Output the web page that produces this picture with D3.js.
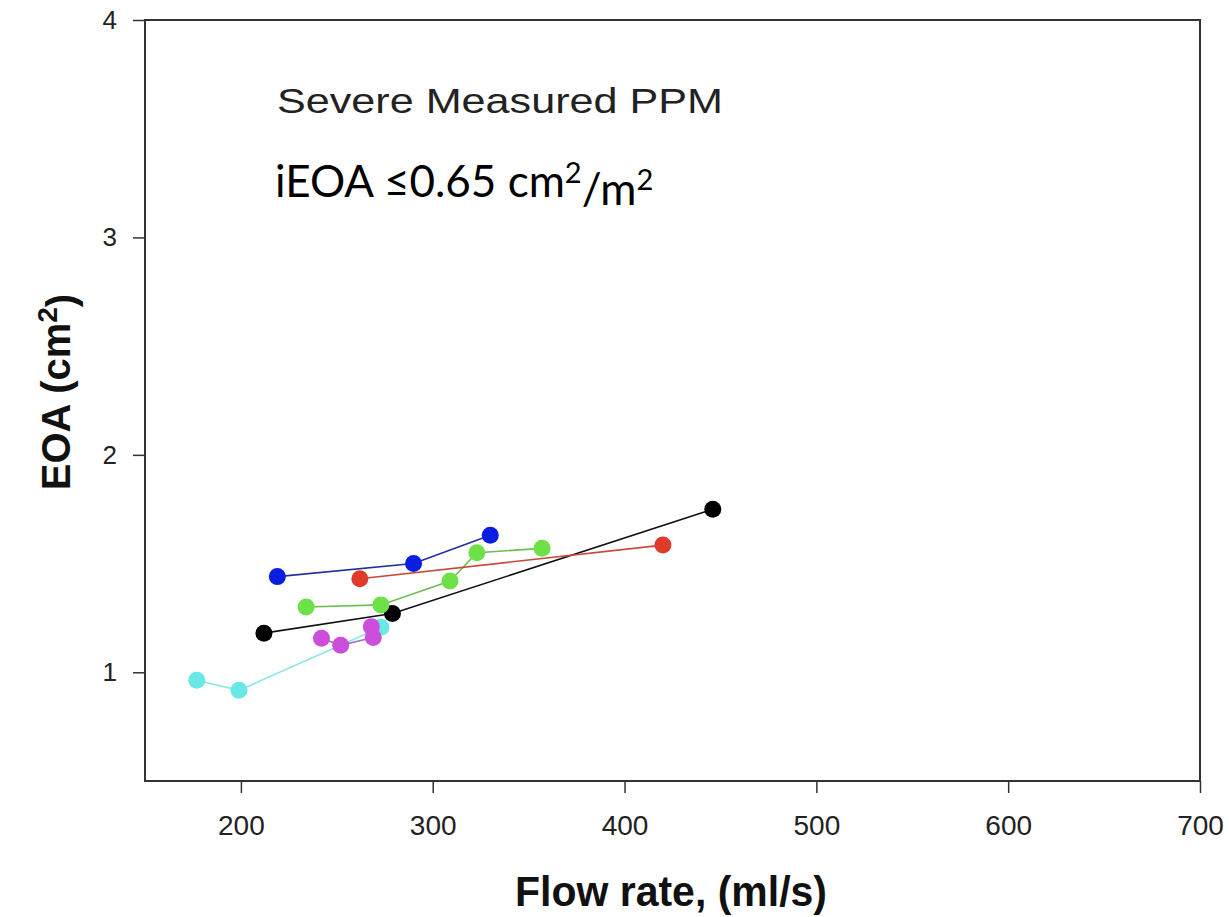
<!DOCTYPE html>
<html>
<head>
<meta charset="utf-8">
<script src="https://cdn.jsdelivr.net/npm/d3@7"></script>
<style>
  body { margin: 0; background: #fff; }
</style>
</head>
<body>
<svg id="chart" width="1229" height="917"></svg>
<script>
// tick values
const xTicks = [200, 300, 400, 500, 600, 700];
const yTicks = [1, 2, 3, 4];

// one series per patient: flow rate (ml/s) and EOA (cm2)
const blueFlow = [219, 290, 330];
const blueEoa = [1.44, 1.50, 1.63];
const redFlow = [262, 420];
const redEoa = [1.43, 1.585];
const greenFlow = [234, 273, 309, 323, 357];
const greenEoa = [1.30, 1.31, 1.42, 1.55, 1.57];
const blackFlow = [212, 279, 446];
const blackEoa = [1.18, 1.27, 1.75];
const magentaFlow = [242, 252, 269, 268];
const magentaEoa = [1.157, 1.124, 1.16, 1.21];
const cyanFlow = [177, 199, 273];
const cyanEoa = [0.963, 0.917, 1.207];

const series = [
  { name: "cyan", flow: cyanFlow, eoa: cyanEoa, dot: "#6ae8e6", line: "#8ee6e6" },
  { name: "magenta", flow: magentaFlow, eoa: magentaEoa, dot: "#cc4fdc", line: "#a070c0" },
  { name: "black", flow: blackFlow, eoa: blackEoa, dot: "#000000", line: "#111111" },
  { name: "green", flow: greenFlow, eoa: greenEoa, dot: "#6ee048", line: "#6cbf50" },
  { name: "red", flow: redFlow, eoa: redEoa, dot: "#e03a2a", line: "#c84a3a" },
  { name: "blue", flow: blueFlow, eoa: blueEoa, dot: "#0a1ee0", line: "#2030a0" }
];

const svg = d3.select("#chart");
const width = 1229, height = 917;
const margin = { top: 20, right: 29, bottom: 136, left: 145 };

const x = d3.scaleLinear().domain([150, 700]).range([margin.left, width - margin.right]);
const y = d3.scaleLinear().domain([0.5, 4]).range([height - margin.bottom, margin.top]);

// frame
svg.append("rect")
  .attr("x", margin.left)
  .attr("y", margin.top)
  .attr("width", width - margin.left - margin.right)
  .attr("height", height - margin.top - margin.bottom)
  .attr("fill", "none")
  .attr("stroke", "#333")
  .attr("stroke-width", 2);

// axes
const xAxis = svg.append("g")
  .attr("transform", `translate(0,${height - margin.bottom})`)
  .call(d3.axisBottom(x).tickValues(xTicks).tickSize(12).tickPadding(22).tickFormat(d3.format("d")));

const yAxis = svg.append("g")
  .attr("transform", `translate(${margin.left},0)`)
  .call(d3.axisLeft(y).tickValues(yTicks).tickSize(12).tickPadding(16).tickFormat(d3.format("d")));

[xAxis, yAxis].forEach(g => {
  g.select(".domain").remove();
  g.selectAll("line").attr("stroke", "#333").attr("stroke-width", 1.5);
  g.selectAll("text")
    .attr("font-family", "Liberation Sans, Arial, sans-serif")
    .attr("fill", "#222");
});
xAxis.selectAll("text").attr("font-size", "28px");
yAxis.selectAll("text").attr("font-size", "26px");

// axis titles
svg.append("text")
  .attr("x", 671)
  .attr("y", 906)
  .attr("text-anchor", "middle")
  .attr("font-family", "Liberation Sans, Arial, sans-serif")
  .attr("font-weight", "bold")
  .attr("font-size", "42px")
  .attr("textLength", 312)
  .attr("lengthAdjust", "spacingAndGlyphs")
  .attr("fill", "#111")
  .text("Flow rate, (ml/s)");

const yLab = svg.append("text")
  .attr("transform", "translate(70,392) rotate(-90)")
  .attr("text-anchor", "middle")
  .attr("font-family", "Liberation Sans, Arial, sans-serif")
  .attr("font-weight", "bold")
  .attr("font-size", "40px")
  .attr("fill", "#111");
yLab.append("tspan").text("EOA (cm");
yLab.append("tspan").attr("dy", "-0.45em").attr("font-size", "28px").text("2");
yLab.append("tspan").attr("dy", "0.45em").text(")");

// annotations
svg.append("text")
  .attr("x", 277)
  .attr("y", 113)
  .attr("font-family", "Liberation Sans, Arial, sans-serif")
  .attr("font-size", "35px")
  .attr("textLength", 446)
  .attr("lengthAdjust", "spacingAndGlyphs")
  .attr("fill", "#222")
  .text("Severe Measured PPM");

const sub = svg.append("text")
  .attr("x", 275)
  .attr("y", 197)
  .attr("font-family", "Lato, Carlito, sans-serif")
  .attr("font-size", "44px")
  .attr("fill", "#000");
sub.append("tspan").text("iEOA \u22640.65 cm");
sub.append("tspan").attr("dy", "-0.5em").attr("font-size", "29px").text("2");
sub.append("tspan").attr("dy", "0.5em").text("/m");
sub.append("tspan").attr("dy", "-0.5em").attr("font-size", "29px").text("2");

// lines and points
const line = d3.line().x(d => x(d[0])).y(d => y(d[1]));

series.forEach(s => {
  const pts = s.flow.map((f, i) => [f, s.eoa[i]]);
  svg.append("path")
    .datum(pts)
    .attr("d", line)
    .attr("fill", "none")
    .attr("stroke", s.line)
    .attr("stroke-width", 1.6);
});

series.forEach(s => {
  const pts = s.flow.map((f, i) => [f, s.eoa[i]]);
  svg.selectAll(null)
    .data(pts)
    .enter()
    .append("circle")
    .attr("cx", d => x(d[0]))
    .attr("cy", d => y(d[1]))
    .attr("r", 8.5)
    .attr("fill", s.dot);
});
</script>
</body>
</html>
